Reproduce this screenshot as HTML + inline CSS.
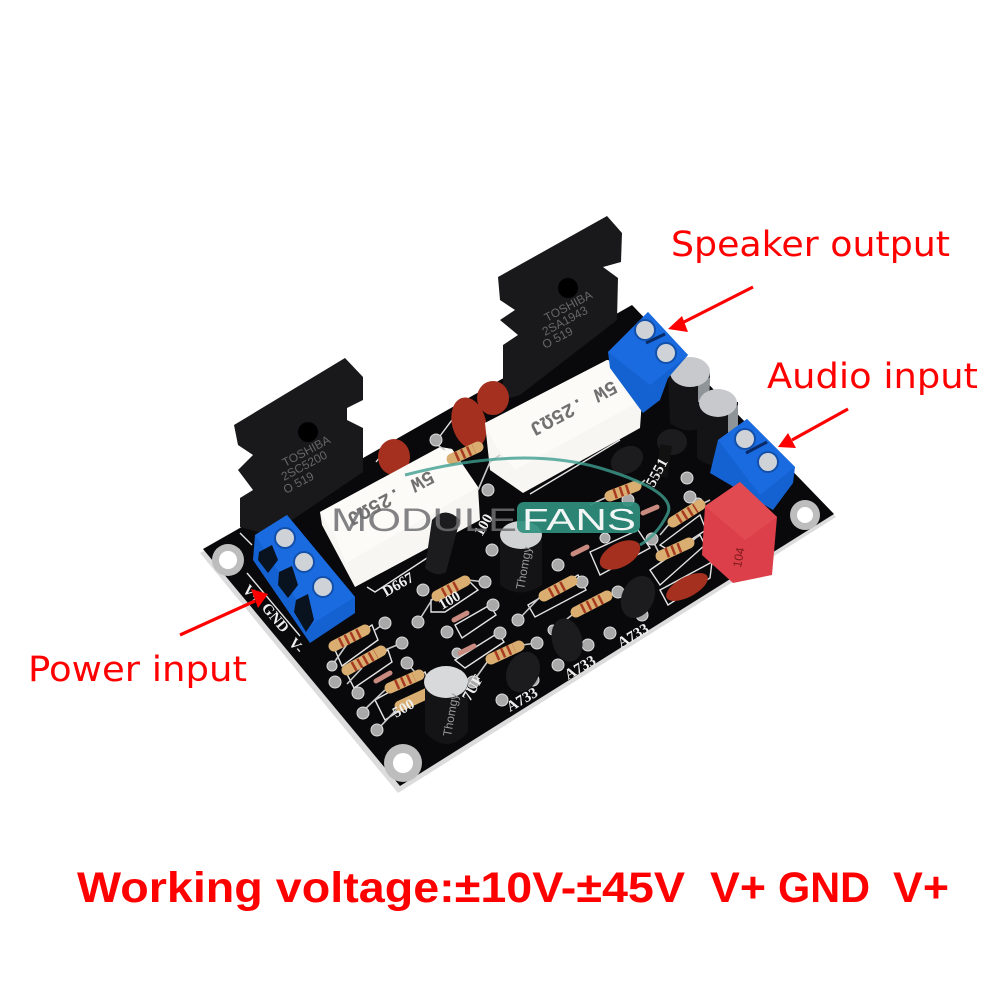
<!DOCTYPE html>
<html><head><meta charset="utf-8"><style>html,body{margin:0;padding:0;background:#fff}svg{display:block}text{font-family:"Liberation Sans",sans-serif}</style></head><body>
<svg width="1000" height="1000" viewBox="0 0 1000 1000" xmlns="http://www.w3.org/2000/svg">
<rect width="1000" height="1000" fill="#fff"/>
<!-- board -->
<polygon points="200,553 398,793 836,517 640,320" fill="#dcdcdc"/>
<polygon points="203,549 400,786 834,514 632,305" fill="#09090b"/>
<!-- silkscreen outlines -->
<g fill="none" stroke="#e4e4e4" stroke-width="1.4">
<path d="M367,587 375,592 427,558M530,494 620,440M240,533 252,545M247,573 300,636M505,448 515,440"/>
<path d="M376,462 384,452 410,472M440,436 452,420 480,450"/>
<path d="M431,600 466,578 478,590 445,612 431,612Z"/>
<path d="M335,650 372,625 378,640 342,666Z"/><path d="M347,674 388,650 392,662 354,688Z"/>
<path d="M455,625 490,605 496,615 462,638Z"/><path d="M455,660 498,633 504,642 465,668Z"/>
<path d="M528,605 578,575 586,590 535,617Z"/><path d="M590,552 638,530 650,548 600,575Z"/>
<path d="M660,590 712,562 710,578 668,605Z"/><path d="M650,570 700,535 705,545 660,585Z"/>
<path d="M660,545 700,515 706,530 672,552Z"/><path d="M375,700 425,672 432,690 385,720Z"/>
</g>
<!-- holes -->
<g><circle cx="228" cy="560" r="16" fill="#bdbdbd"/><circle cx="228" cy="560" r="9" fill="#fff"/>
<circle cx="403" cy="763" r="19" fill="#bdbdbd"/><circle cx="403" cy="763" r="10" fill="#fff"/>
<circle cx="805" cy="515" r="15" fill="#bdbdbd"/><circle cx="805" cy="515" r="8" fill="#fff"/></g>
<!-- power transistors -->
<polygon points="234,425 345,358 363,377 363,400 347,408 347,420 363,428 363,472 270,535 240,527 240,498 253,490 238,470 253,455 238,445" fill="#19191b"/>
<polygon points="498,277 607,216 622,233 621,262 603,267 618,278 617,320 520,395 503,400 503,345 518,335 500,320 515,310 500,300" fill="#19191b"/>
<ellipse cx="308" cy="432" rx="10" ry="10" fill="#000"/><ellipse cx="568" cy="288" rx="10" ry="10" fill="#000"/>
<g fill="#666" font-size="12"><text transform="translate(285,467) rotate(-28)">TOSHIBA</text><text transform="translate(284,481) rotate(-28)">2SC5200</text><text transform="translate(286,494) rotate(-28)">O  519</text>
<text transform="translate(547,322) rotate(-28)">TOSHIBA</text><text transform="translate(545,336) rotate(-28)">2SA1943</text><text transform="translate(545,349) rotate(-28)">O  519</text></g>
<!-- film caps -->
<g fill="#a5301f"><ellipse cx="394" cy="457" rx="16" ry="18"/><ellipse cx="469" cy="423" rx="17" ry="26" transform="rotate(-15 469 423)"/><ellipse cx="493" cy="398" rx="16" ry="17"/>
<ellipse cx="620" cy="555" rx="22" ry="12" transform="rotate(-28 620 555)"/><ellipse cx="687" cy="587" rx="23" ry="10" transform="rotate(-28 687 587)"/></g>
<!-- white cement resistors -->
<polygon points="320,512 440,447 452,449 478,487 480,520 355,587 322,525" fill="#f7f6f2"/>
<polygon points="320,512 440,447 452,449 478,487 346,563 335,535" fill="#fcfbf8"/>
<polygon points="485,423 607,360 620,363 642,400 640,428 523,493 490,470" fill="#f7f6f2"/>
<polygon points="485,423 607,360 620,363 642,400 515,470 495,445" fill="#fcfbf8"/>
<text transform="translate(430,470) rotate(152)" font-size="20" font-weight="bold" fill="#444" opacity=".75" style="font-family:'Liberation Mono',monospace">5W .25ΩJ</text>
<text transform="translate(613,380) rotate(152)" font-size="20" font-weight="bold" fill="#444" opacity=".75" style="font-family:'Liberation Mono',monospace">5W .25ΩJ</text>
<!-- leads -->
<g fill="none" stroke="#c9c9c9" stroke-width="1.6">
<path d="M333,664 350,640M375,630 385,623M347,684 362,668M385,650 402,643M362,712 385,690M420,678 407,663M377,730 398,708M418,622 435,595M468,580 485,582M473,682 490,658M522,645 537,643M518,620 540,597M575,582 582,582M553,630 572,615M610,595 618,592M652,539 660,555M692,542 698,535M670,523 660,535M704,503 710,500M607,497 590,505M637,487 645,480M478,490 490,462 500,455M445,450 430,440"/>
</g>
<!-- pads -->
<g fill="#a9a9a9" stroke="#dcdcdc" stroke-width="1">
<circle cx="385" cy="623" r="6"/><circle cx="332" cy="666" r="5"/><circle cx="402" cy="643" r="6"/><circle cx="335" cy="682" r="6"/><circle cx="407" cy="663" r="6"/><circle cx="358" cy="693" r="6"/><circle cx="363" cy="713" r="6"/><circle cx="377" cy="730" r="6"/><circle cx="423" cy="590" r="6"/><circle cx="418" cy="622" r="6"/><circle cx="485" cy="582" r="6"/><circle cx="493" cy="605" r="6"/><circle cx="447" cy="632" r="6"/><circle cx="500" cy="633" r="6"/><circle cx="457" cy="653" r="5"/><circle cx="473" cy="682" r="6"/><circle cx="537" cy="643" r="6"/><circle cx="502" cy="700" r="6"/><circle cx="533" cy="680" r="6"/><circle cx="492" cy="550" r="6"/><circle cx="582" cy="582" r="6"/><circle cx="518" cy="620" r="6"/><circle cx="558" cy="565" r="6"/><circle cx="605" cy="538" r="5"/><circle cx="618" cy="592" r="6"/><circle cx="610" cy="633" r="6"/><circle cx="642" cy="615" r="6"/><circle cx="558" cy="665" r="6"/><circle cx="588" cy="645" r="6"/><circle cx="553" cy="630" r="5"/><circle cx="652" cy="539" r="6"/><circle cx="698" cy="503" r="5"/><circle cx="436" cy="440" r="6"/><circle cx="488" cy="490" r="6"/><circle cx="628" cy="500" r="6"/><circle cx="687" cy="478" r="6"/><circle cx="690" cy="497" r="6"/>
</g>
<!-- resistors -->
<g stroke-linecap="round"><g stroke="#d9ae70" stroke-width="11">
<line x1="334" y1="646" x2="365" y2="630"/><line x1="347" y1="670" x2="381" y2="651"/><line x1="390" y1="688" x2="419" y2="675"/><line x1="400" y1="706" x2="428" y2="693"/><line x1="437" y1="596" x2="465" y2="581"/><line x1="491" y1="659" x2="519" y2="646"/><line x1="544" y1="596" x2="572" y2="581"/><line x1="576" y1="612" x2="607" y2="596"/><line x1="661" y1="556" x2="689" y2="543"/><line x1="673" y1="522" x2="700" y2="505"/><line x1="610" y1="496" x2="636" y2="486"/><line x1="452" y1="459" x2="478" y2="447"/></g>
<g stroke="#a83a22" stroke-width="10" stroke-dasharray="2.5 4" stroke-linecap="butt">
<line x1="340" y1="643" x2="360" y2="633"/><line x1="353" y1="667" x2="376" y2="654"/><line x1="396" y1="685" x2="414" y2="677"/><line x1="443" y1="593" x2="460" y2="584"/><line x1="496" y1="656" x2="514" y2="648"/><line x1="550" y1="593" x2="567" y2="584"/><line x1="582" y1="609" x2="602" y2="599"/><line x1="666" y1="553" x2="684" y2="546"/><line x1="678" y1="519" x2="696" y2="508"/><line x1="614" y1="494" x2="632" y2="488"/><line x1="456" y1="457" x2="474" y2="449"/></g>
<!-- diodes -->
<g stroke="#c98a80" stroke-width="5"><line x1="454" y1="620" x2="467" y2="613"/><line x1="460" y1="653" x2="474" y2="646"/><line x1="376" y1="681" x2="390" y2="673"/><line x1="573" y1="554" x2="587" y2="547"/><line x1="643" y1="513" x2="657" y2="507"/></g></g>
<!-- small transistors -->
<g fill="#1c1c1f"><ellipse cx="523" cy="672" rx="16" ry="21" transform="rotate(25 523 672)"/><ellipse cx="567" cy="640" rx="15" ry="22" transform="rotate(-15 567 640)"/><ellipse cx="638" cy="597" rx="16" ry="22" transform="rotate(25 638 597)"/><ellipse cx="627" cy="460" rx="17" ry="13" transform="rotate(-30 627 460)"/><ellipse cx="672" cy="442" rx="15" ry="13"/><rect x="658" y="445" width="12" height="32" fill="#111" transform="rotate(8 664 460)"/><path d="M432,520 Q445,505 460,520 L446,572 Q436,578 425,568Z"/></g>
<!-- electrolytic caps -->
<g><path d="M668,373 L670,423 Q690,438 708,423 L710,373Z" fill="#141416"/><path d="M698,378 L698,425 Q700,430 708,425 L710,378Z" fill="#8f9498"/>
<path d="M697,402 L697,458 Q718,474 738,458 L738,402Z" fill="#141416"/><path d="M728,410 L728,450 L738,445 L738,405Z" fill="#8f9498"/>
<ellipse cx="690" cy="372" rx="20" ry="15" fill="#c7c9cc"/><ellipse cx="718" cy="403" rx="19" ry="14" fill="#c7c9cc"/>
<path d="M500,540 L500,585 Q520,600 542,585 L542,540Z" fill="#141416"/><ellipse cx="521" cy="535" rx="21" ry="14" fill="#d0d2d4"/>
<path d="M425,682 L425,732 Q447,756 468,732 L468,682Z" fill="#141416"/><ellipse cx="446" cy="682" rx="22" ry="16" fill="#d7d9db"/></g>
<g fill="#9a9a9a" font-size="12"><text transform="translate(524,590) rotate(-80)">Thomgy</text><text transform="translate(451,737) rotate(-80)">Thomgy</text></g>
<!-- terminals -->
<g>
<polygon points="287,515 355,597 355,613 310,643 253,560 255,535" fill="#1462d2"/>
<polygon points="255,535 287,515 355,597 312,624" fill="#1a6ae0"/>
<polygon points="259,552 272,545 278,560 268,573 258,560" fill="#08131f"/><polygon points="279,572 292,566 298,585 288,598 278,585" fill="#08131f"/><polygon points="296,600 308,594 314,620 306,632 294,612" fill="#08131f"/>
<polygon points="648,312 688,355 668,378 660,400 643,413 610,368 608,352" fill="#1462d2"/>
<polygon points="608,352 648,312 688,355 650,385" fill="#1a6ae0"/>
<line x1="646" y1="343" x2="665" y2="334" stroke="#0a2a66" stroke-width="3"/>
<polygon points="747,419 795,467 793,483 773,510 710,473 718,440" fill="#1462d2"/>
<polygon points="718,440 747,419 795,467 760,495" fill="#1a6ae0"/>
<line x1="746" y1="453" x2="767" y2="442" stroke="#0a2a66" stroke-width="3"/>
</g>
<g fill="#cfd3d8" stroke="#1250ab" stroke-width="2"><circle cx="285" cy="538" r="10"/><circle cx="304" cy="562" r="10"/><circle cx="323" cy="587" r="10"/><circle cx="645" cy="330" r="10"/><circle cx="666" cy="353" r="10"/><circle cx="745" cy="439" r="10"/><circle cx="768" cy="462" r="10"/></g>
<!-- red box cap -->
<polygon points="740,482 777,517 772,575 733,583 702,555 705,506" fill="#dc3f49"/>
<polygon points="740,482 777,517 745,540 705,506" fill="#e24a52"/>
<text transform="translate(741,568) rotate(-80)" font-size="12" fill="#7a1a1a">104</text>
<!-- silk text -->
<g fill="#efefef" font-size="15" font-weight="bold">
<text transform="translate(510,712) rotate(-30)" style="font-family:'Liberation Serif',serif">A733</text><text transform="translate(568,680) rotate(-30)" style="font-family:'Liberation Serif',serif">A733</text><text transform="translate(621,648) rotate(-30)" style="font-family:'Liberation Serif',serif">A733</text><text transform="translate(386,597) rotate(-30)" style="font-family:'Liberation Serif',serif">D667</text><text transform="translate(242,590) rotate(50)" style="font-family:'Liberation Serif',serif">V+</text><text transform="translate(261,608) rotate(50)" style="font-family:'Liberation Serif',serif">GND</text><text transform="translate(288,643) rotate(50)" style="font-family:'Liberation Serif',serif">V-</text><text transform="translate(654,488) rotate(-62)" style="font-family:'Liberation Serif',serif">5551</text><text transform="translate(442,610) rotate(-30)" style="font-family:'Liberation Serif',serif">100</text><text transform="translate(482,537) rotate(-60)" style="font-family:'Liberation Serif',serif">100</text><text transform="translate(470,702) rotate(-60)" style="font-family:'Liberation Serif',serif">7UF</text><text transform="translate(396,718) rotate(-30)" style="font-family:'Liberation Serif',serif">500</text></g>
<!-- watermark -->
<text x="331" y="531" font-size="32" fill="#6f6f72" opacity=".85" textLength="186" lengthAdjust="spacingAndGlyphs">MODULE</text>
<path d="M405 475Q520 445 600 468Q680 492 667 515Q657 535 640 545" fill="none" stroke="#3f9d8e" stroke-width="3" opacity=".8"/>
<rect x="517" y="502" width="123" height="31" rx="7" fill="#2f8f7e" opacity=".92"/>
<text x="522" y="530" font-size="31" fill="#f2f6f5" textLength="114" lengthAdjust="spacingAndGlyphs">FANS</text>
<!-- arrows -->
<g stroke="#ff0000" stroke-width="3.2" fill="#ff0000">
<line x1="180" y1="635" x2="255" y2="601"/><polygon points="268,594 251,589 258,608" stroke="none"/>
<line x1="753" y1="287" x2="682" y2="323"/><polygon points="668,329 682,316 688,332" stroke="none"/>
<line x1="848" y1="409" x2="792" y2="440"/><polygon points="778,447 788,433 796,448" stroke="none"/>
</g>
<g fill="#ff0000" font-size="35">
<text x="671" y="256" textLength="279" lengthAdjust="spacingAndGlyphs" style="font-family:'DejaVu Sans',sans-serif">Speaker output</text>
<text x="767" y="388" textLength="211" lengthAdjust="spacingAndGlyphs" style="font-family:'DejaVu Sans',sans-serif">Audio input</text>
<text x="28" y="681" textLength="219" lengthAdjust="spacingAndGlyphs" style="font-family:'DejaVu Sans',sans-serif">Power input</text>
</g>
<g font-size="43" font-weight="bold" fill="#ff0000">
<text x="77" y="902" textLength="608" lengthAdjust="spacingAndGlyphs">Working voltage:±10V-±45V</text>
<text x="710" y="902" textLength="56" lengthAdjust="spacingAndGlyphs">V+</text>
<text x="778" y="902" textLength="92" lengthAdjust="spacingAndGlyphs">GND</text>
<text x="893" y="902" textLength="56" lengthAdjust="spacingAndGlyphs">V+</text>
</g>
</svg>
</body></html>
